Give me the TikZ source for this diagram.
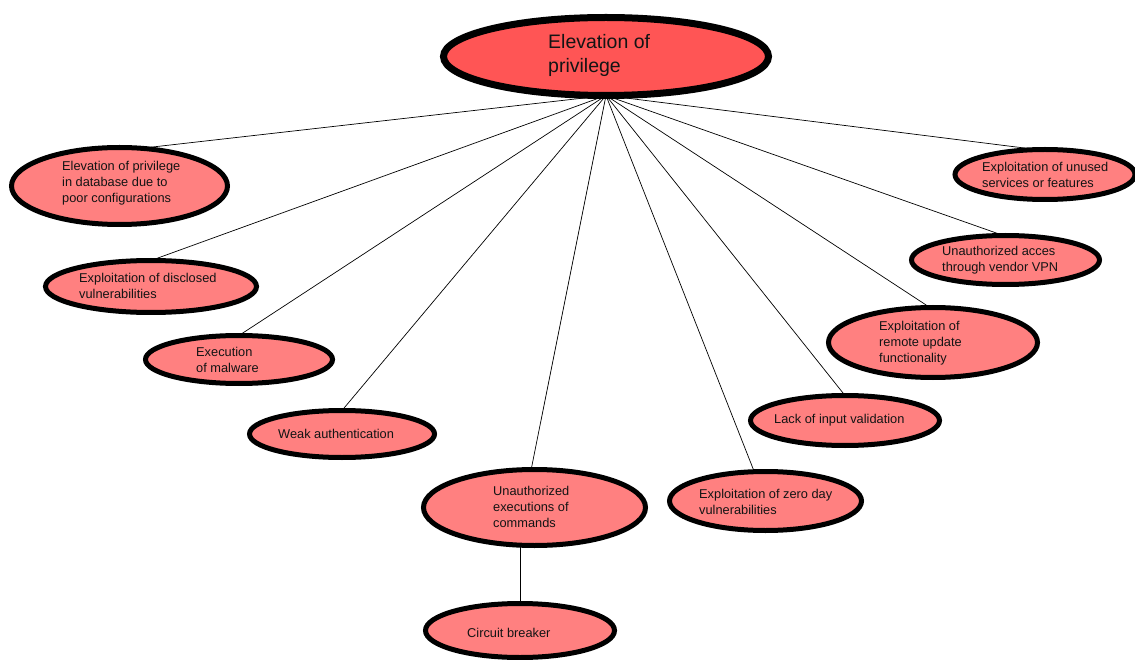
\documentclass[tikz,border=0pt]{standalone}
\usepackage{fontspec}
\setmainfont{Liberation Sans}
\usetikzlibrary{shapes.geometric}
\definecolor{rootfill}{RGB}{255,85,85}
\definecolor{leaffill}{RGB}{255,128,128}
\definecolor{ink}{RGB}{20,20,20}
\begin{document}
\begin{tikzpicture}[x=1pt,y=-1pt,
  rootnode/.style={ellipse,draw=black,line width=7pt,fill=rootfill,inner sep=0pt,outer sep=0pt},
  leaf/.style={ellipse,draw=black,line width=5pt,fill=leaffill,inner sep=0pt,outer sep=0pt},
  roottext/.style={anchor=west,align=left,inner sep=0pt,text=ink,font=\fontsize{19.5}{24}\selectfont},
  leaftext/.style={anchor=west,align=left,inner sep=0pt,text=ink,font=\fontsize{12.8}{16}\selectfont},
  link/.style={draw=black,line width=0.7pt}]
\useasboundingbox (0,0) rectangle (1135,660);

% ellipses
\node[rootnode,minimum width=325pt,minimum height=78pt] (root) at (606,56.5) {};
\node[leaf,minimum width=216pt,minimum height=77pt] (c1) at (119.5,186) {};
\node[leaf,minimum width=211pt,minimum height=52pt] (c2) at (151,286.5) {};
\node[leaf,minimum width=187pt,minimum height=48pt] (c3) at (239,359.5) {};
\node[leaf,minimum width=185pt,minimum height=47pt] (c4) at (342,434) {};
\node[leaf,minimum width=222pt,minimum height=76pt] (c5) at (534.5,507.5) {};
\node[leaf,minimum width=189pt,minimum height=54pt] (c6) at (520,630.5) {};
\node[leaf,minimum width=192pt,minimum height=59pt] (c7) at (765.5,501) {};
\node[leaf,minimum width=189pt,minimum height=50pt] (c8) at (845,420.5) {};
\node[leaf,minimum width=209pt,minimum height=70pt] (c9) at (933,342.5) {};
\node[leaf,minimum width=188pt,minimum height=49pt] (c10) at (1005.5,260) {};
\node[leaf,minimum width=180pt,minimum height=50pt] (c11) at (1045,174.5) {};

% connectors
\draw[link] (root.south) -- (c1.60);
\draw[link] (root.south) -- (c2.north);
\draw[link] (root.south) -- (c3.north);
\draw[link] (root.south) -- (c4.north);
\draw[link] (root.south) -- (c5.95);
\draw[link] (root.south) -- (c7.111);
\draw[link] (root.south) -- (c8.north);
\draw[link] (root.south) -- (c9.95);
\draw[link] (root.south) -- (c10.95);
\draw[link] (root.south) -- (c11.108);
\draw[link] (c6.north) -- (c6.north |- c5.south);

% labels
\node[roottext] (t0) at (548,55) {Elevation of\\privilege};
\node[leaftext] (t1) at (62,183) {Elevation of privilege\\in database due to\\poor configurations};
\node[leaftext] (t2) at (79,286) {Exploitation of disclosed\\vulnerabilities};
\node[leaftext] (t3) at (196,360) {Execution\\of malware};
\node[leaftext] (t4) at (278,434) {Weak authentication};
\node[leaftext] (t5) at (493,507) {Unauthorized\\executions of\\commands};
\node[leaftext] (t6) at (467,633) {Circuit breaker};
\node[leaftext] (t7) at (699,501.5) {Exploitation of zero day\\vulnerabilities};
\node[leaftext] (t8) at (774,420) {Lack of input validation};
\node[leaftext] (t9) at (879,343) {Exploitation of\\remote update\\functionality};
\node[leaftext] (t10) at (942,260.5) {Unauthorized acces\\through vendor VPN};
\node[leaftext] (t11) at (982,175) {Exploitation of unused\\services or features};
\end{tikzpicture}
\end{document}
